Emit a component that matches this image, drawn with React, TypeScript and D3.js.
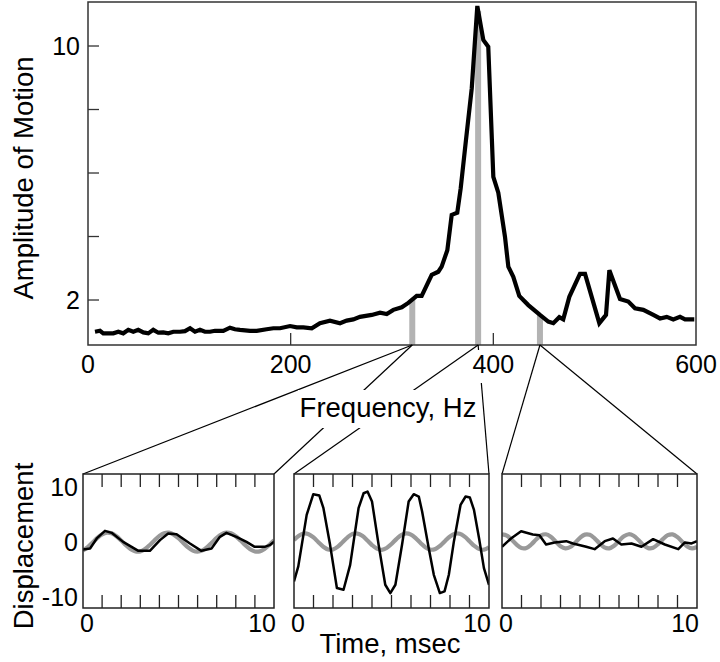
import React from "react";
import * as d3 from "d3";

// ---- Spectrum (top) ----
const specFreq = [
  6.9, 11.8, 15.1, 25.0, 29.9, 34.8, 39.8, 44.7, 49.6, 54.6, 59.5, 64.4, 69.4, 74.3, 79.2, 84.2,
  90.8, 95.7, 100.7, 105.6, 110.5, 115.4, 120.4, 125.3, 133.5, 140.1, 145.0, 150.0, 159.9, 166.5,
  176.3, 182.9, 189.5, 199.4, 206.0, 212.5, 220.8, 228.9, 238.8, 248.7, 255.3, 261.8, 268.4,
  280.0, 288.2, 294.8, 301.3, 309.6, 316.1, 324.4, 329.3, 339.2, 345.7, 349.0, 354.6, 358.9,
  364.4, 367.8, 373.0, 378.7, 384.2, 390.1, 395.0, 400.0, 404.9, 411.5, 414.8, 419.7, 425.6,
  434.5, 446.0, 454.2, 459.2, 465.1, 469.0, 475.0, 485.5, 490.5, 504.6, 511.2, 514.5, 525.0,
  533.2, 539.8, 548.0, 557.9, 564.5, 571.1, 577.6, 584.2, 589.2, 598.3,
];
const specAmp = [
  1.0, 1.03, 0.95, 0.95, 1.0, 0.95, 1.06, 1.0, 1.06, 0.98, 0.95, 1.06, 0.97, 0.98, 0.95, 1.0,
  1.0, 1.02, 1.11, 1.0, 1.06, 1.0, 1.0, 1.03, 1.03, 1.13, 1.08, 1.06, 1.03, 1.03,
  1.08, 1.11, 1.11, 1.18, 1.14, 1.14, 1.11, 1.27, 1.35, 1.27, 1.35, 1.39, 1.47,
  1.53, 1.6, 1.56, 1.69, 1.77, 1.91, 2.13, 2.13, 2.79, 2.89, 3.05, 3.57, 4.68,
  4.75, 5.52, 7.04, 8.67, 11.26, 10.19, 9.98, 5.88, 5.38, 3.99, 3.05, 2.73, 2.13,
  1.84, 1.53, 1.32, 1.27, 1.46, 1.39, 2.1, 2.82, 2.82, 1.27, 1.53, 2.94, 2.03,
  1.95, 1.74, 1.69, 1.53, 1.42, 1.47, 1.39, 1.47, 1.39, 1.39,
];
const sweepFreqs = [320, 385, 446];
const sweepBarAmp = [2.02, 11.1, 1.53];
const xTicksTop = [0, 200, 400, 600];
const xInnerTicksTop = [200, 400];
const yTicksTop = [2, 4, 6, 8, 10];
const yLabelsTop = [2, 10];

// ---- Time traces (bottom) ----
const grayTime = [
  0, 0.25, 0.5, 0.75, 1, 1.25, 1.5, 1.75, 2, 2.25, 2.5, 2.75, 3, 3.25, 3.5, 3.75, 4, 4.25, 4.5, 4.75,
  5, 5.25, 5.5, 5.75, 6, 6.25, 6.5, 6.75, 7, 7.25, 7.5, 7.75, 8, 8.25, 8.5, 8.75, 9, 9.25, 9.5, 9.75, 10,
];
const leftGrayV = [
  -1.52, -0.91, -0.07, 0.78, 1.44, 1.74, 1.61, 1.09, 0.29, -0.58, -1.3, -1.7, -1.69, -1.25, -0.51, 0.36,
  1.14, 1.64, 1.73, 1.39, 0.71, -0.15, -0.97, -1.55, -1.75, -1.52, -0.91, -0.07, 0.78, 1.44, 1.74, 1.61,
  1.09, 0.29, -0.58, -1.3, -1.7, -1.69, -1.25, -0.51, 0.36,
];
const middleGrayV = [
  0.39, 1.17, 1.58, 1.46, 0.86, -0.01, -0.84, -1.34, -1.33, -0.81, 0.03, 0.89, 1.48, 1.57, 1.15, 0.35,
  -0.53, -1.19, -1.4, -1.07, -0.33, 0.56, 1.29, 1.6, 1.37, 0.7, -0.19, -0.98, -1.38, -1.26, -0.66, 0.21,
  1.04, 1.54, 1.53, 1.01, 0.17, -0.69, -1.28, -1.37, -0.95,
];
const rightGrayV = [
  1.44, 1.21, 0.45, -0.47, -1.07, -1.06, -0.43, 0.49, 1.24, 1.44, 0.99, 0.11, -0.74, -1.14, -0.89, -0.11,
  0.8, 1.38, 1.34, 0.7, -0.22, -0.96, -1.13, -0.66, 0.23, 1.07, 1.45, 1.17, 0.38, -0.53, -1.1, -1.03,
  -0.37, 0.56, 1.28, 1.42, 0.93, 0.04, -0.8, -1.15, -0.85,
];
const leftBlackT = [0, 0.37, 0.72, 1.15, 1.5, 2.1, 2.9, 3.5, 4.03, 4.46, 4.9, 5.6, 6.2, 6.73, 7.17, 7.51, 8.03, 8.56, 8.99, 9.51, 9.77, 10];
const leftBlackV = [-1.33, -1.15, 0.68, 2.07, 1.7, 0.05, -1.59, -1.59, 0.37, 1.59, 1.46, -0.24, -1.59, -1.15, 0.97, 1.7, 0.97, 0.05, -0.86, -0.86, -0.55, 0.1];
const middleBlackT = [
  0, 0.22, 0.65, 0.99, 1.3, 1.51, 1.85, 2.2, 2.54, 2.88, 3.31, 3.57, 3.77, 4.0, 4.34, 4.68, 4.94, 5.2,
  5.54, 5.88, 6.14, 6.4, 6.57, 6.91, 7.17, 7.48, 7.72, 7.94, 8.2, 8.54, 8.8, 9.02, 9.23, 9.49, 9.74, 10,
];
const middleBlackV = [
  -7.18, -4.44, 4.99, 8.77, 8.53, 6.21, -0.49, -8.4, -8.71, -4.15, 6.21, 8.95, 9.26, 7.43, -0.49, -7.8, -9.32, -7.8,
  -0.49, 7.43, 8.77, 8.35, 5.61, -1.1, -5.97, -9.32, -9.01, -5.97, 0.13, 6.81, 8.35, 8.16, 5.9, 0.73, -4.75, -7.8,
];
const rightBlackT = [0, 0.46, 0.98, 1.58, 1.92, 2.26, 2.7, 3.29, 3.64, 4.32, 4.75, 5.27, 5.69, 6.12, 6.64, 7.15, 7.75, 8.35, 9.04, 9.38, 9.72, 10];
const rightBlackV = [-0.85, 0.67, 2.0, 1.4, 1.28, -0.43, -0.06, 0.18, -0.24, -0.85, -1.28, 0.18, 0.67, -0.43, -0.24, -0.85, 0.55, -0.43, -1.28, -0.06, -0.24, 0.18];
const timeTicks = [1, 2, 3, 4, 5, 6, 7, 8, 9];
const dispLabels = [10, 0, -10];
const timeStartLabel = "0";
const timeEndLabel = "10";

const FONT = "'Liberation Sans', Arial, Helvetica, sans-serif";

export default function App() {
  const x = d3.scaleLinear().domain([0, 600]).range([88, 696]);
  const y = d3.scaleLinear().domain([0.583, 11.386]).range([345, 2]);
  const specPts: [number, number][] = specFreq.map((f, i) => [f, specAmp[i]]);
  const specLine = d3.line<[number, number]>().x((d) => x(d[0])).y((d) => y(d[1]))(specPts) || "";

  const panelGeom = [
    [83, 274],
    [294, 489],
    [502, 697],
  ];
  const pTop = 474;
  const pBot = 608;
  const py = d3.scaleLinear().domain([-12.05, 12.47]).range([pBot, pTop]);
  const panels = [
    { gv: leftGrayV, bt: leftBlackT, bv: leftBlackV },
    { gv: middleGrayV, bt: middleBlackT, bv: middleBlackV },
    { gv: rightGrayV, bt: rightBlackT, bv: rightBlackV },
  ];

  return (
    <div style={{ position: "absolute", left: 0, top: 0 }}>
      <svg width={720} height={662} style={{ display: "block", background: "#fff" }} fontFamily={FONT}>
        <rect x={0} y={0} width={720} height={662} fill="#fff" />
        {/* sweep bars */}
        {sweepFreqs.map((f, i) => (
          <rect key={"bar" + i} x={x(f) - 3} y={y(sweepBarAmp[i])} width={6} height={345 - y(sweepBarAmp[i])} fill="#b3b3b3" />
        ))}
        {/* spectrum */}
        <path d={specLine} fill="none" stroke="#000" strokeWidth={4.2} strokeLinejoin="miter" strokeMiterlimit={3} />
        {/* frame */}
        <rect x={88} y={2} width={608} height={343} fill="none" stroke="#333" strokeWidth={1.5} />
        {yTicksTop.map((v) => (
          <line key={"yt" + v} x1={88} x2={99} y1={y(v)} y2={y(v)} stroke="#333" strokeWidth={1.3} />
        ))}
        {xInnerTicksTop.map((v) => (
          <line key={"xt" + v} x1={x(v)} x2={x(v)} y1={345} y2={333} stroke="#333" strokeWidth={1.3} />
        ))}
        {yLabelsTop.map((v) => (
          <text key={"yl" + v} x={80} y={y(v) + 9} fontSize={25} textAnchor="end" fill="#000">
            {v}
          </text>
        ))}
        {/* connector lines */}
        {sweepFreqs.map((f, i) => (
          <g key={"con" + i}>
            <line x1={x(f)} y1={345} x2={panelGeom[i][0]} y2={pTop} stroke="#000" strokeWidth={1.2} />
            <line x1={x(f)} y1={345} x2={panelGeom[i][1]} y2={pTop} stroke="#000" strokeWidth={1.2} />
          </g>
        ))}
        {/* knockouts */}
        <rect x={298} y={390} width={183} height={38} fill="#fff" />
        <rect x={472} y={350} width={44} height={33} fill="#fff" />
        {xTicksTop.map((v) => (
          <text key={"xl" + v} x={x(v)} y={373} fontSize={25} textAnchor="middle" fill="#000">
            {v}
          </text>
        ))}
        <text x={388} y={417} fontSize={27.5} textAnchor="middle" fill="#000">
          Frequency, Hz
        </text>
        <text transform="translate(33,178) rotate(-90)" fontSize={27.5} textAnchor="middle" fill="#000">
          Amplitude of Motion
        </text>

        {/* bottom panels */}
        <defs>
          {panelGeom.map((g, i) => (
            <clipPath id={"pclip" + i} key={"cp" + i}>
              <rect x={g[0]} y={pTop} width={g[1] - g[0]} height={pBot - pTop} />
            </clipPath>
          ))}
        </defs>
        {panels.map((p, i) => {
          const [l, r] = panelGeom[i];
          const px = d3.scaleLinear().domain([0, 10]).range([l, r]);
          const gray = d3
            .line<number>()
            .x((_, j) => px(grayTime[j]))
            .y((d) => py(d))
            .curve(d3.curveCatmullRom)(p.gv) || "";
          const black = d3
            .line<number>()
            .x((_, j) => px(p.bt[j]))
            .y((d) => py(d))(p.bv) || "";
          return (
            <g key={"panel" + i}>
              <g clipPath={`url(#pclip${i})`}>
                <path d={gray} fill="none" stroke="#999" strokeWidth={4.2} />
                <path d={black} fill="none" stroke="#000" strokeWidth={2.5} strokeLinejoin="round" />
              </g>
              <rect x={l} y={pTop} width={r - l} height={pBot - pTop} fill="none" stroke="#222" strokeWidth={1.5} />
              {timeTicks.map((t) => (
                <g key={"tt" + t}>
                  <line x1={px(t)} x2={px(t)} y1={pTop} y2={pTop + 13} stroke="#222" strokeWidth={1.3} />
                  <line x1={px(t)} x2={px(t)} y1={pBot} y2={pBot - 13} stroke="#222" strokeWidth={1.3} />
                </g>
              ))}
              <text x={px(0) + 4} y={632} fontSize={25} textAnchor="middle" fill="#000">
                {timeStartLabel}
              </text>
              <text x={px(10) + 2} y={632} fontSize={25} textAnchor="end" fill="#000">
                {timeEndLabel}
              </text>
            </g>
          );
        })}
        {dispLabels.map((v) => (
          <text key={"dl" + v} x={78} y={py(v) + 9} fontSize={25} textAnchor="end" fill="#000">
            {v}
          </text>
        ))}
        <text transform="translate(33,546) rotate(-90)" fontSize={27.5} textAnchor="middle" fill="#000">
          Displacement
        </text>
        <text x={390} y={653} fontSize={27.5} textAnchor="middle" fill="#000">
          Time, msec
        </text>
      </svg>
    </div>
  );
}
